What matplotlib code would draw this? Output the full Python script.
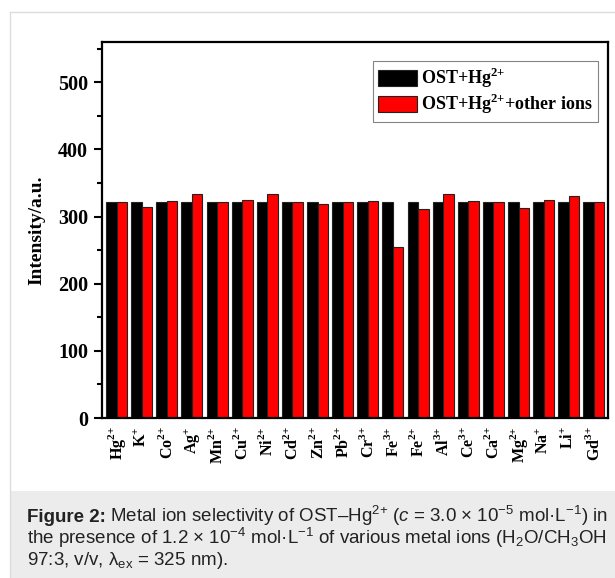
import matplotlib
matplotlib.use("Agg")
import matplotlib.pyplot as plt
import numpy as np
from matplotlib.ticker import MultipleLocator
from matplotlib.patches import Rectangle
from matplotlib.lines import Line2D

# --- data ---
ions = ['Hg', 'K', 'Co', 'Ag', 'Mn', 'Cu', 'Ni', 'Cd', 'Zn', 'Pb',
        'Cr', 'Fe', 'Fe', 'Al', 'Ce', 'Ca', 'Mg', 'Na', 'Li', 'Gd']
charges = ['2+', '+', '2+', '+', '2+', '2+', '2+', '2+', '2+', '2+',
           '3+', '3+', '2+', '3+', '3+', '2+', '2+', '+', '+', '3+']
ost_hg = [321, 321, 321, 321, 321, 321, 321, 321, 321, 321,
          321, 321, 321, 321, 321, 321, 321, 321, 321, 321]
ost_hg_other = [321, 315, 323, 334, 321, 325, 334, 321, 318, 322,
                323, 255, 312, 333, 323, 322, 313, 324, 330, 321]

plt.rcParams['font.family'] = ['Liberation Serif']
plt.rcParams['mathtext.fontset'] = 'custom'
plt.rcParams['mathtext.rm'] = 'Liberation Sans'
plt.rcParams['mathtext.it'] = 'Liberation Sans:italic'
plt.rcParams['mathtext.bf'] = 'Liberation Serif:bold'


def sup(c):
    # charge as bold superscript, '+' kept from binary-operator spacing
    return '$^{\\mathbf{' + c.replace('+', '{+}') + '}}$'


fig = plt.figure(figsize=(6.15, 5.78), dpi=100)

# page frame and caption background
fig.add_artist(Line2D([10/615, 10/615], [0, 1 - 12/578], color='#dcdcdc', lw=1))
fig.add_artist(Line2D([10/615, 1], [1 - 12/578, 1 - 12/578], color='#dcdcdc', lw=1))
fig.add_artist(Rectangle((10.5/615, 0), 1, 87/578, facecolor='#ececec',
                         edgecolor='none', transform=fig.transFigure))

ax = fig.add_axes([102/615, 160/578, 506/615, 376/578])

x = np.arange(len(ions))
w = 0.42
ax.bar(x - w/2, ost_hg, w, color='black', edgecolor='#222222', lw=0.8,
       label='OST+Hg' + sup('2+'))
ax.bar(x + w/2, ost_hg_other, w, color='#ff0000', edgecolor='#222222', lw=0.8,
       label='OST+Hg' + sup('2+') + '+other ions')

ax.set_xlim(-0.58, len(ions) - 0.44)
ax.set_ylim(0, 560)
ax.yaxis.set_major_locator(MultipleLocator(100))
ax.yaxis.set_minor_locator(MultipleLocator(50))
ax.set_xticks(x)
ax.set_xticklabels([n + sup(c) for n, c in zip(ions, charges)],
                   rotation=90, fontsize=11.5, fontweight='bold')
ax.tick_params(axis='x', length=0, pad=6)
ax.tick_params(axis='y', which='major', length=6, width=1.5, labelsize=14.5, pad=4)
ax.tick_params(axis='y', which='minor', length=3.5, width=1.5)
for lab in ax.get_yticklabels():
    lab.set_fontweight('bold')
for s in ax.spines.values():
    s.set_linewidth(1.6)
ax.set_ylabel('Intensity/a.u.', fontsize=14, fontweight='bold', labelpad=9)

leg = ax.legend(loc='upper right', bbox_to_anchor=(0.98, 0.95),
                prop={'size': 13, 'weight': 'bold'},
                frameon=True, fancybox=False, edgecolor='#666666',
                handlelength=2.15, handleheight=1.0, handletextpad=0.2,
                borderpad=0.3, labelspacing=0.1, borderaxespad=0)
leg.get_frame().set_linewidth(0.8)

# caption
cap_kw = dict(fontsize=13.5, family='Liberation Sans', color='#222222',
              fontweight='normal', va='baseline')
t1 = fig.text(27/615, 1 - 522/578, 'Figure 2:', **dict(cap_kw, fontweight='bold'))
fig.canvas.draw()
bb = t1.get_window_extent()
fig.text(bb.x1/615 + 4/615, 1 - 522/578,
         r'Metal ion selectivity of OST–Hg$^{2{+}}$ ($c$ = 3.0 × 10$^{-5}$ mol·L$^{-1}$) in',
         **cap_kw)
fig.text(27/615, 1 - 544/578,
         r'the presence of 1.2 × 10$^{-4}$ mol·L$^{-1}$ of various metal ions (H$_2$O/CH$_3$OH',
         **cap_kw)
fig.text(27/615, 1 - 565/578, r'97:3, v/v, λ$_{\mathrm{ex}}$ = 325 nm).', **cap_kw)

fig.savefig('out.png', dpi=100)
